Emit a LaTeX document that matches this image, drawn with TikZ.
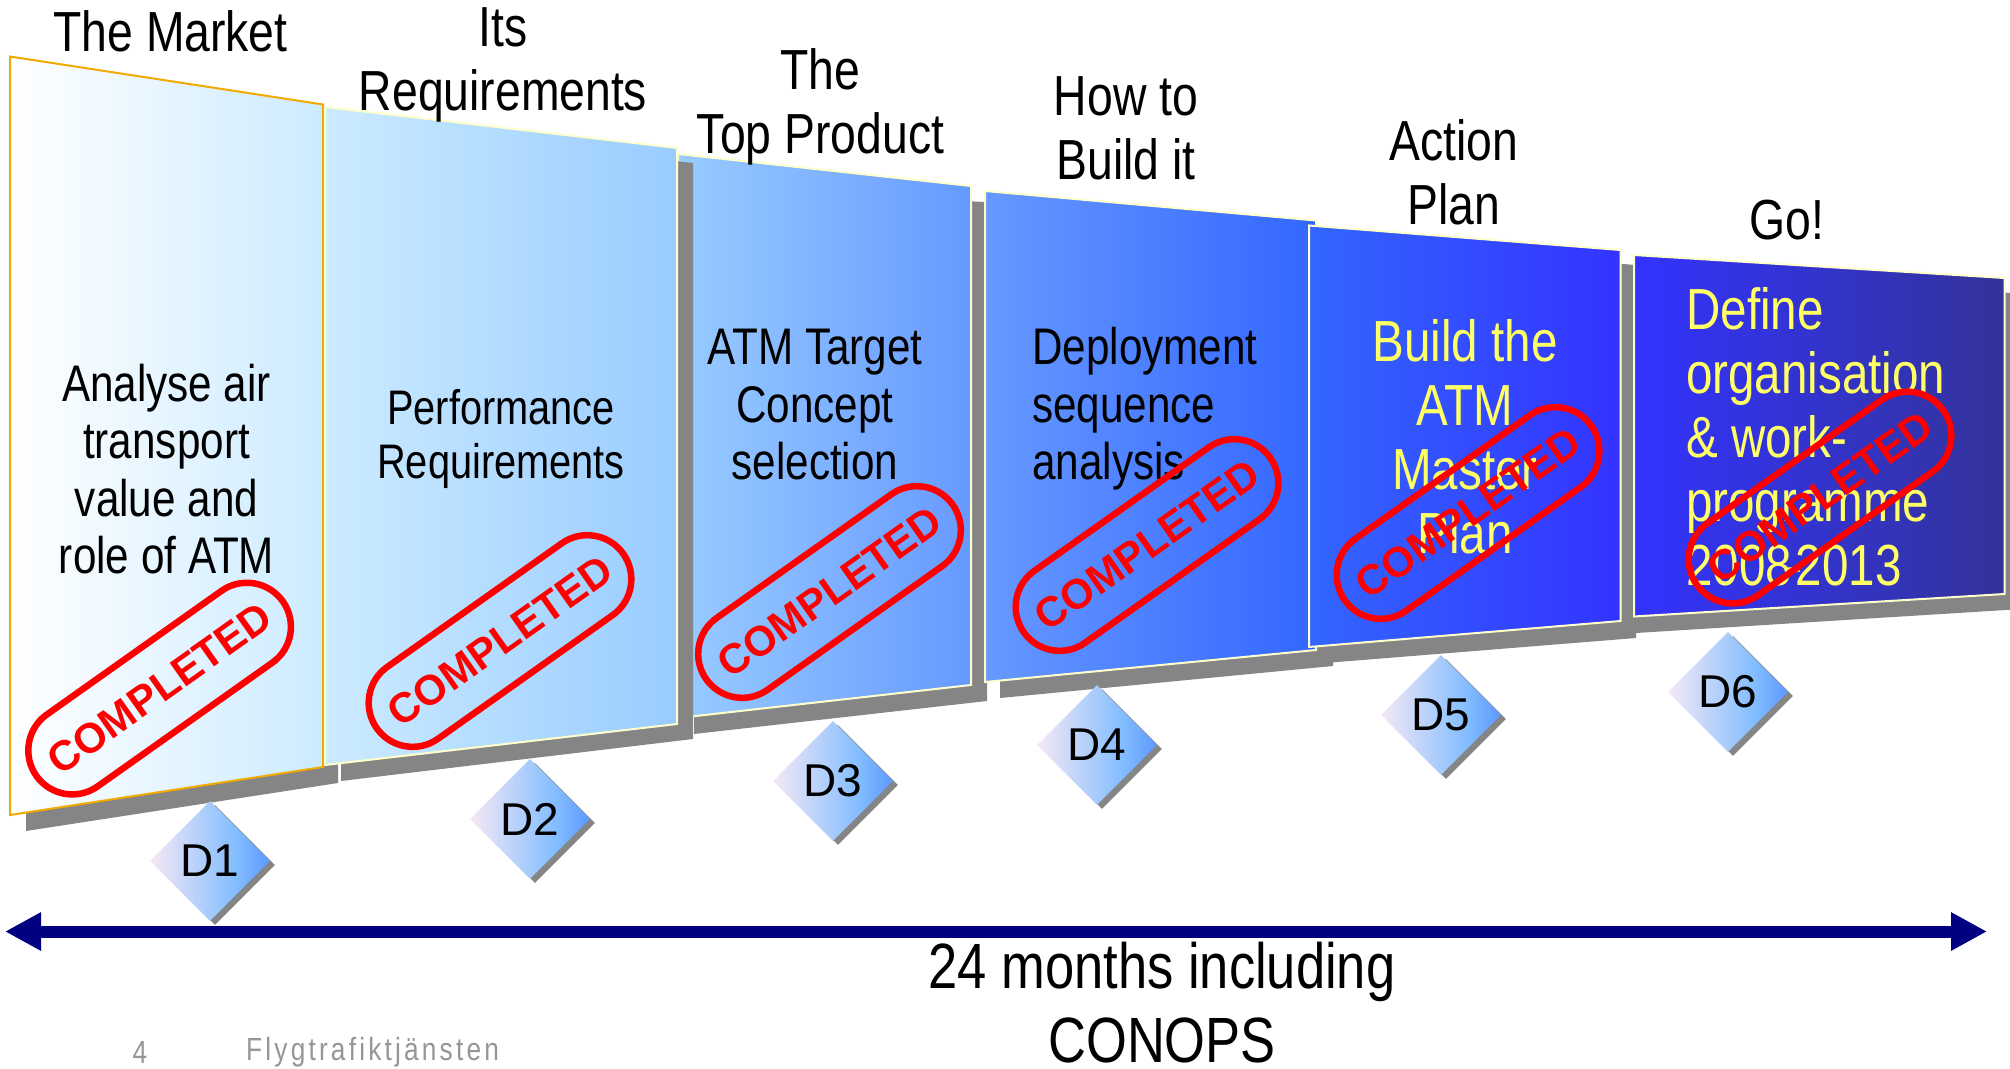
\documentclass[tikz,border=0pt]{standalone}
\usepackage{xcolor}
\usepackage{fontspec}
\usepackage{tikz}
\usetikzlibrary{arrows.meta,shapes.geometric,shadows}

\setmainfont{Liberation Sans}
\newfontfamily\narrowfont[FakeStretch=0.82]{Liberation Sans}
\newfontfamily\footfont[FakeStretch=0.82,LetterSpace=10]{Liberation Sans}

\definecolor{shadowgray}{HTML}{858585}
\definecolor{edgeorange}{HTML}{F2A900}
\definecolor{edgepale}{HTML}{FFFFCC}
\definecolor{shadeA}{HTML}{FFFFFF}
\definecolor{shadeB}{HTML}{CCEBFF}
\definecolor{shadeC}{HTML}{99CCFF}
\definecolor{shadeD}{HTML}{6699FF}
\definecolor{shadeE}{HTML}{3366FF}
\definecolor{shadeF}{HTML}{3333FF}
\definecolor{shadeG}{HTML}{333399}
\definecolor{bodyyellow}{HTML}{FFFF66}
\definecolor{diaL}{HTML}{F5E8F5}
\definecolor{diaM}{HTML}{85BEFF}
\definecolor{diaR}{HTML}{5C99FF}
\definecolor{footgray}{HTML}{969696}
\definecolor{arrownavy}{HTML}{000080}
\definecolor{stampred}{HTML}{FF0000}

\pgfdeclarehorizontalshading{diashade}{100bp}{color(0bp)=(diaL); color(25bp)=(diaL); color(60bp)=(diaM); color(75bp)=(diaR); color(100bp)=(diaR)}

\tikzset{
  panelshadow/.style={fill=shadowgray, draw=none},
  panelA/.style={draw=edgeorange, line width=2pt},
  panelB/.style={draw=edgepale, line width=2pt},
  heading/.style={align=center, inner sep=0pt, font=\narrowfont\fontsize{56.5}{64}\selectfont},
  bodytext/.style={align=center, inner sep=0pt, font=\narrowfont\fontsize{51.5}{57.5}\selectfont},
  bodysmall/.style={align=center, inner sep=0pt, font=\narrowfont\fontsize{48.5}{54}\selectfont},
  bodyleft/.style={align=left, anchor=west, inner sep=0pt, font=\narrowfont\fontsize{51.5}{57.5}\selectfont},
  bodylarge/.style={align=center, inner sep=0pt, text=bodyyellow, font=\narrowfont\fontsize{58}{64}\selectfont},
  bodylargeleft/.style={align=left, anchor=west, inner sep=0pt, text=bodyyellow, font=\narrowfont\fontsize{58}{64}\selectfont},
  stamp/.style={draw=stampred, line width=6.5pt, rounded corners=44pt, minimum width=302pt, minimum height=88pt,
    inner sep=0pt, rotate=35.3, text=stampred, font=\bfseries\fontsize{42}{42}\selectfont},
  dia/.style={diamond, aspect=1, inner sep=0pt, minimum width=120pt, minimum height=120pt, shading=diashade,
    general shadow={fill=shadowgray, shadow xshift=5pt, shadow yshift=-4pt}, font=\fontsize{46}{46}\selectfont}
}

\begin{document}
\begin{tikzpicture}[x=1pt,y=-1pt]
  \useasboundingbox (0,0) rectangle (2010,1068);

  % panel one
  \fill[panelshadow] (26,100) -- (338,120) -- (338,783) -- (26,831) -- cycle;
  \draw[panelA, left color=shadeA, right color=shadeB] (10,56.5) -- (323,104.5) -- (323,767) -- (10,815) -- cycle;

  % panel three sits under panel two
  \fill[panelshadow] (694,190) -- (987,202) -- (987,701) -- (694,734) -- cycle;
  \draw[panelB, left color=shadeC, right color=shadeD] (678,154) -- (971,186) -- (971,685) -- (678,718) -- cycle;

  % panel two
  \fill[panelshadow] (341,123) -- (693,163) -- (693,739) -- (341,781) -- cycle;
  \draw[panelB, left color=shadeB, right color=shadeC] (325,107) -- (677,148) -- (677,724) -- (325,765) -- cycle;

  % panel four
  \fill[panelshadow] (1000,207) -- (1333,236) -- (1333,666) -- (1000,698) -- cycle;
  \draw[panelB, left color=shadeD, right color=shadeE] (985,191) -- (1316,220.5) -- (1316,650) -- (985,682) -- cycle;

  % panel five
  \fill[panelshadow] (1325,242) -- (1636,265) -- (1636,638) -- (1325,663) -- cycle;
  \draw[panelB, left color=shadeE, right color=shadeF] (1309,225.5) -- (1620.5,250) -- (1620.5,621) -- (1309,647) -- cycle;

  % panel six
  \fill[panelshadow] (1636,262) -- (2022,294) -- (2022,609) -- (1636,633) -- cycle;
  \draw[panelB, left color=shadeF, right color=shadeG] (1634,255) -- (2004.5,278) -- (2004.5,594) -- (1634,616.5) -- cycle;

  % top titles
  \node[heading] (titlemarket) at (170.5,31) {The Market};
  \node[heading] (titlereq) at (503,65) {Its\\Requirements};
  \node[heading] (titleproduct) at (820.5,107) {The\\Top Product};
  \node[heading] (titlebuild) at (1126,128) {How to\\Build it};
  \node[heading] (titleplan) at (1454,172) {Action\\Plan};
  \node[heading] (titlego) at (1787,220.5) {Go!};

  % panel texts
  \node[bodytext] (textmarket) at (166.5,469) {Analyse air\\transport\\value and\\role of ATM};
  \node[bodysmall] (textreq) at (501,439) {Performance\\Requirements};
  \node[bodytext] (textproduct) at (815,405) {ATM Target\\Concept\\selection};
  \node[bodyleft] (textbuild) at (1032,409) {Deployment\\sequence\\analysis};
  \node[bodylarge] (textplan) at (1465,437) {Build the\\ATM\\Master\\Plan};
  \node[bodylargeleft] (textgo) at (1686,437) {Define\\organisation\\\& work-\\programme\\2008\kern-6pt-\kern-6pt 2013};

  % stamps
  \node[stamp] (stampone) at (159.6,688.6) {COMPLETED};
  \node[stamp] (stamptwo) at (500,641) {COMPLETED};
  \node[stamp] (stampthree) at (829.5,592) {COMPLETED};
  \node[stamp] (stampfour) at (1147,545) {COMPLETED};
  \node[stamp] (stampfive) at (1468,513) {COMPLETED};
  \node[stamp] (stampsix) at (1820,497.5) {COMPLETED};

  % decision diamonds
  \node[dia] (dOne) at (210,861) {D1};
  \node[dia] (dTwo) at (530,819) {D2};
  \node[dia] (dThree) at (833,781) {D3};
  \node[dia] (dFour) at (1097,745) {D4};
  \node[dia] (dFive) at (1441,715) {D5};
  \node[dia] (dSix) at (1728,692) {D6};

  % time line
  \coordinate (lineleft) at (5,931.5);
  \coordinate (lineright) at (1987,931.5);
  \draw[arrownavy, line width=12pt, {Triangle[length=36pt,width=36pt]}-{Triangle[length=36pt,width=36pt]}] (lineleft) -- (lineright);
  \node[align=center, inner sep=0pt, font=\narrowfont\fontsize{64}{74}\selectfont] (linelabel) at (1162,1003) {24 months including\\CONOPS};

  % footer
  \node[inner sep=0pt, text=footgray, font=\footfont\fontsize{32}{32}\selectfont] (pagenum) at (140,1052) {4};
  \node[inner sep=0pt, anchor=west, text=footgray, font=\footfont\fontsize{32}{32}\selectfont] (footname) at (246,1052) {Flygtrafiktjänsten};
\end{tikzpicture}
\end{document}
